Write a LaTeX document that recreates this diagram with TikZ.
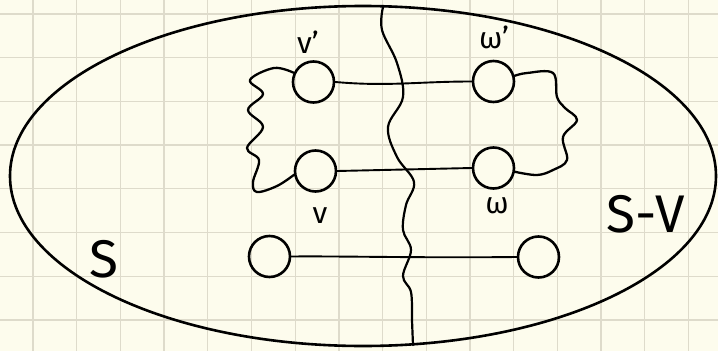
\documentclass[tikz,border=0pt]{standalone}
\usepackage{fontspec}
\setmainfont{Fira Sans}
\definecolor{paper}{RGB}{253,252,237}
\definecolor{gridc}{RGB}{222,219,203}
\tikzset{
  vert/.style={circle,draw=black,line width=2.6pt,minimum size=41pt,inner sep=0pt},
  ink/.style={line width=2.6pt,line cap=round,line join=round},
  edge/.style={line width=1.9pt,line cap=round},
  lbl/.style={inner sep=0pt,anchor=base,font=\fontsize{30}{30}\selectfont},
  biglbl/.style={inner sep=0pt,font=\fontsize{53}{53}\selectfont},
}
\begin{document}
\begin{tikzpicture}[x=1pt,y=-1pt]
\fill[paper] (0,0) rectangle (718,351);
\useasboundingbox (0,0) rectangle (718,351);
\foreach \i in {0,...,15} {\draw[gridc,line width=1.3pt] (33+43.7*\i,0) -- (33+43.7*\i,351);}
\foreach \j in {0,...,7} {\draw[gridc,line width=1.3pt] (0,14+43.7*\j) -- (718,14+43.7*\j);}
% outer ellipse
\draw[ink] (363,176) ellipse [x radius=353, y radius=170];
% divider
\coordinate (top) at (383,7);
\coordinate (bot) at (413,345);
\draw[edge,line width=2.2pt] plot[smooth,tension=0.6] coordinates {(top) (382,30) (397,63) (403,97) (388,127) (397,157) (414,182) (406,205) (403,230) (411,250) (403,276) (411,292) (412,320) (bot)};
% vertices
\node[vert] (vp) at (313.5,82) {};
\node[vert] (wp) at (493.5,81.5) {};
\node[vert] (v)  at (315.5,171) {};
\node[vert] (w)  at (493.5,168) {};
\node[vert] (a)  at (269.5,256.5) {};
\node[vert] (b)  at (538.5,257) {};
% edges
\draw[edge] (vp.east) to[out=-5,in=180] (wp.west);
\draw[edge] (v.east) -- (w.west);
\draw[edge] (a.east) .. controls (340,256) and (420,258) .. (b.west);
% wavy paths
\draw[ink,line width=2.3pt] plot[smooth,tension=0.6] coordinates {(vp.155) (274,68) (250,80) (263,94) (248,110) (263,127) (247,148) (259,160) (253,182) (257,192) (277,186) (v.190)};
\draw[ink,line width=2.3pt] plot[smooth,tension=0.6] coordinates {(wp.15) (527,73) (553,73) (557,97) (565,108) (577,120) (563,137) (567,160) (553,170) (537,175) (w.-10)};
% labels
\node[lbl] (lvp) at (308,53) {v'};
\node[lbl] (lwp) at (494,48) {ω'};
\node[lbl] (lv) at (320,223) {v};
\node[lbl] (lw) at (497,213) {ω};
\node[biglbl] (ls) at (104,259) {S};
\node[biglbl] (lsv) at (646,214) {S-V};
\end{tikzpicture}
\end{document}
